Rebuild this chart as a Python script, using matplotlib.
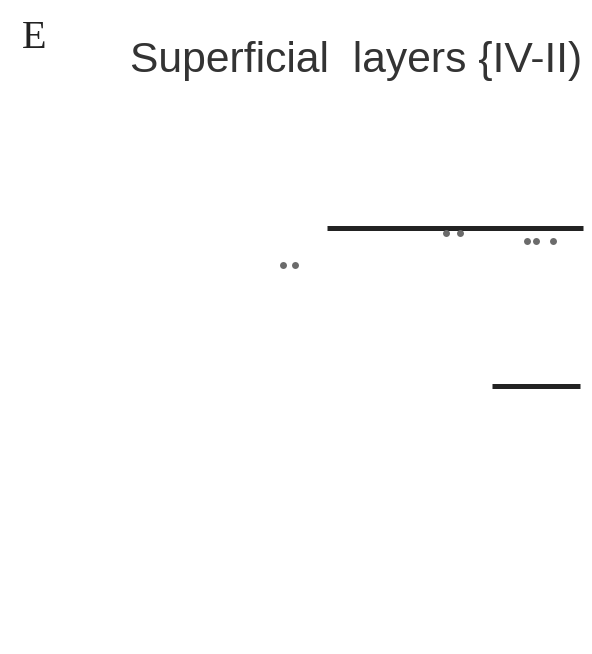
import matplotlib.pyplot as plt

# ==========================================================
# DATOS
# ==========================================================

panel_label = "E"
titulo = "Superficial  layers {IV-II)"

# grupos de puntos (x, y)
puntos_x = [47.8, 49.8, 75.3, 77.7, 89.0, 90.5, 93.4]
puntos_y = [59.5, 59.5, 64.4, 64.4, 63.1, 63.1, 63.1]

# barras horizontales (x inicio, x fin, y)
barras_x0 = [55.2, 83.1]
barras_x1 = [98.5, 98.0]
barras_y = [65.1, 41.0]

# ==========================================================
# FIGURA
# ==========================================================

fig = plt.figure(figsize=(5.92, 6.54), dpi=100)
ax = fig.add_axes([0, 0, 1, 1])
ax.set_xlim(0, 100)
ax.set_ylim(0, 100)
ax.axis("off")

for x0, x1, y in zip(barras_x0, barras_x1, barras_y):
    ax.plot([x0, x1], [y, y], color="#222222", linewidth=3.6,
            solid_capstyle="butt")

ax.plot(puntos_x, puntos_y, "o", color="#6b6b6b", markersize=5,
        markeredgewidth=0)

fig.text(0.037, 0.927, panel_label, family="Liberation Serif",
         fontsize=29, va="baseline", ha="left", color="#222222")
fig.text(0.22, 0.890, titulo, family="Liberation Sans",
         fontsize=30.7, va="baseline", ha="left", color="#333333")

plt.savefig("out.png", dpi=100)
plt.close()
